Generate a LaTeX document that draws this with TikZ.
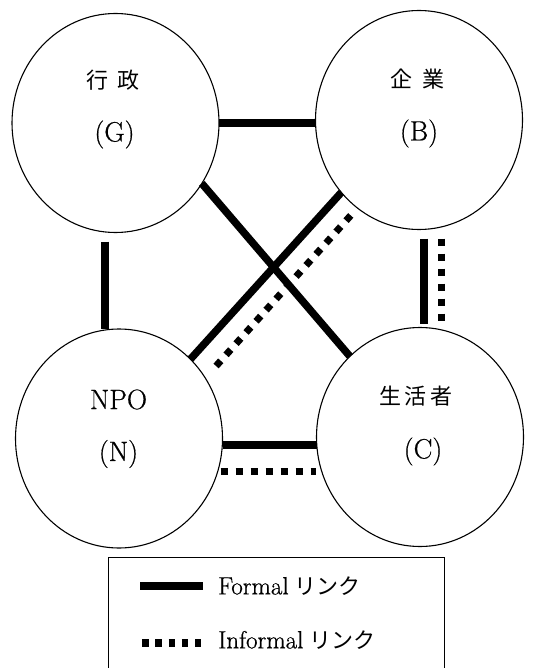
\documentclass[tikz,border=0pt]{standalone}
\usepackage{fontspec}
\newfontfamily\cjk{Noto Sans CJK JP}
\newfontfamily\latb{Latin Modern Roman}[FakeBold=0.6]
\usetikzlibrary{shapes.geometric,calc}
\tikzset{
  actor/.style={ellipse, draw, line width=1.1pt, minimum width=207pt, minimum height=219pt, inner sep=0pt, outer sep=0pt},
  lab/.style={inner sep=0pt, font=\fontsize{28}{32}\selectfont\latb},
  cjklab/.style={inner sep=0pt, font=\fontsize{22}{26}\selectfont\cjk},
  leg/.style={inner sep=0pt, anchor=west, font=\fontsize{25}{28}\selectfont\latb},
  formal/.style={line width=7.5pt},
  informal/.style={line width=7pt, dash pattern=on 7pt off 8pt},
}
\begin{document}
\begin{tikzpicture}[x=1pt,y=-1pt]
\useasboundingbox (0,0) rectangle (551,668);
% actors
\node[actor] (G) at (115.5,123) {};
\node[actor] (B) at (419,120) {};
\node[actor] (N) at (119,438.5) {};
\node[actor] (C) at (420,437) {};
% labels
\node[cjklab] (Gj) at (113,80) {行\hspace{10pt}政};
\node[lab] (Ge) at (114.5,134.5) {(G)};
\node[cjklab] (Bj) at (417.5,79) {企\hspace{10pt}業};
\node[lab] (Be) at (419,133.5) {(B)};
\node[lab] (Ne) at (118.5,399.5) {NPO};
\node[lab] (Nc) at (118.5,454) {(N)};
\node[cjklab] (Cj) at (416,396) {生\hspace{4pt}活\hspace{4pt}者};
\node[lab] (Ce) at (423,451.5) {(C)};
% links
\draw[formal] (G.east) -- (G.east -| B.west);
\draw[formal] ([xshift=-10.5pt,yshift=-9pt]G.south) -- ([xshift=-14pt]N.north);
\draw[formal] (G.-35.5) -- (C.131);
\draw[formal] (B.223.5) -- (N.48.6);
\draw[informal, shorten <=10pt, shorten >=10pt] (B.235.8) -- (N.35.3);
\draw[formal] ([xshift=5pt,yshift=-9pt]B.south) -- ([xshift=4pt,yshift=4pt]C.north);
\draw[informal] ([xshift=22pt,yshift=-9pt]B.south) -- ([xshift=21pt,yshift=2pt]C.north);
\draw[formal] ([yshift=-6.5pt]N.east) -- ([yshift=-6.5pt]N.east -| C.west);
\draw[informal] ([xshift=-2pt,yshift=-32.5pt]N.east) -- ([xshift=-1pt,yshift=-32.5pt]N.east -| C.west);
% legend
\draw[line width=1pt] (108,668) -- (108,557) -- (444,557) -- (444,668);
\node[leg] (Lf) at (218,586) {Formal\hspace{6pt}{\fontsize{22}{24}\selectfont\cjk リンク}};
\node[leg] (Li) at (218,640) {Informal\hspace{6pt}{\fontsize{22}{24}\selectfont\cjk リンク}};
\draw[formal] ([xshift=-78pt]Lf.west) -- ([xshift=-15pt]Lf.west);
\draw[line width=8pt, dash pattern=on 6.5pt off 6.8pt] ([xshift=-76pt,yshift=-3pt]Li.west) -- ([xshift=-17pt,yshift=-3pt]Li.west);
\end{tikzpicture}
\end{document}
